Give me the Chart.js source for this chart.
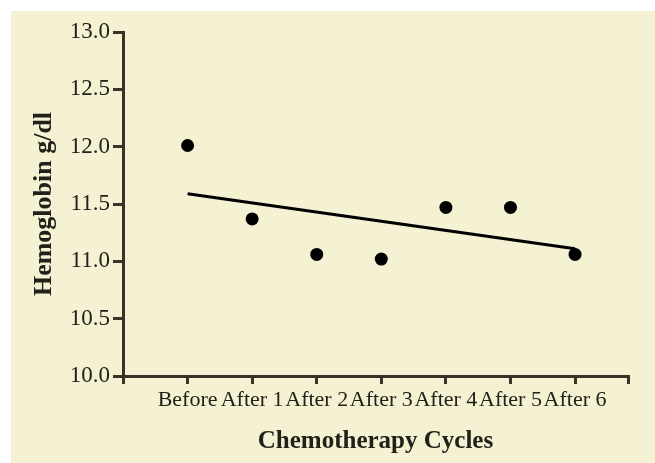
<!DOCTYPE html>
<html>
<head>
<meta charset="utf-8">
<script src="https://cdn.jsdelivr.net/npm/chart.js@4"></script>
<style>
    html, body { margin: 0; padding: 0; background: #ffffff; }
    canvas { display: block; }
</style>
</head>
<body>
<canvas id="hbChart" width="655" height="463"></canvas>
<script>
// values
const cycles = ['Before', 'After 1', 'After 2', 'After 3', 'After 4', 'After 5', 'After 6'];
const hemoglobin = [12.01, 11.37, 11.06, 11.02, 11.47, 11.47, 11.06];
const trendEnds = [11.59, 11.11]; // fitted line at "Before" and "After 6"
const yTicks = [10.0, 10.5, 11.0, 11.5, 12.0, 12.5, 13.0];

const axisColor = '#3b3226';
const textColor = '#222018';
const serif = '"Liberation Serif", "DejaVu Serif", serif';

const xMax = 7.82;

const paperBackground = {
    id: 'paperBackground',
    beforeDraw(chart) {
        const { ctx, width, height } = chart;
        ctx.save();
        ctx.fillStyle = '#ffffff';
        ctx.fillRect(0, 0, width, height);
        ctx.fillStyle = '#f4f2d3';
        ctx.fillRect(11, 11, width - 11, height - 11);
        ctx.restore();
    },
};

const points = hemoglobin.map((value, i) => ({ x: i + 1, y: value }));
const trend = [
    { x: 1, y: trendEnds[0] },
    { x: cycles.length, y: trendEnds[1] },
];

new Chart(document.getElementById('hbChart').getContext('2d'), {
    type: 'scatter',
    data: {
        datasets: [
            {
                label: 'Hemoglobin',
                data: points,
                backgroundColor: '#000000',
                borderColor: '#000000',
                pointRadius: 6.5,
                pointBorderWidth: 0,
            },
            {
                type: 'line',
                label: 'Trend',
                data: trend,
                borderColor: '#000000',
                borderWidth: 3,
                pointRadius: 0,
                fill: false,
            },
        ],
    },
    options: {
        responsive: false,
        animation: false,
        layout: {
            padding: { left: 20, top: 32, right: 27, bottom: 0 },
        },
        plugins: {
            legend: { display: false },
            tooltip: { enabled: false },
        },
        scales: {
            x: {
                type: 'linear',
                min: 0,
                max: xMax,
                afterBuildTicks(scale) {
                    const values = [0, ...cycles.map((_, i) => i + 1), xMax];
                    scale.ticks = values.map((value) => ({ value }));
                },
                afterFit(scale) {
                    scale.height = 87;
                },
                ticks: {
                    autoSkip: false,
                    maxRotation: 0,
                    minRotation: 0,
                    padding: 3,
                    color: textColor,
                    font: { family: serif, size: 22 },
                    callback(value) {
                        return Number.isInteger(value) && value >= 1 && value <= cycles.length
                            ? cycles[value - 1]
                            : '';
                    },
                },
                grid: {
                    drawOnChartArea: false,
                    color: axisColor,
                    lineWidth: 3,
                    tickLength: 8,
                },
                border: { color: axisColor, width: 3 },
                title: {
                    display: true,
                    text: 'Chemotherapy Cycles',
                    color: textColor,
                    font: { family: serif, size: 25, weight: 'bold' },
                    padding: { top: 0, bottom: 6 },
                },
            },
            y: {
                min: 10,
                max: 13,
                afterBuildTicks(scale) {
                    scale.ticks = yTicks.map((value) => ({ value }));
                },
                afterFit(scale) {
                    scale.width = 103;
                },
                ticks: {
                    padding: 3,
                    color: textColor,
                    font: { family: serif, size: 23 },
                    callback(value) {
                        return value.toFixed(1);
                    },
                },
                grid: {
                    drawOnChartArea: false,
                    color: axisColor,
                    lineWidth: 3,
                    tickLength: 10,
                },
                border: { color: axisColor, width: 3 },
                title: {
                    display: true,
                    text: 'Hemoglobin g/dl',
                    color: textColor,
                    font: { family: serif, size: 26, weight: 'bold' },
                    padding: { top: 9, bottom: 0 },
                },
            },
        },
    },
    plugins: [paperBackground],
});
</script>
</body>
</html>
